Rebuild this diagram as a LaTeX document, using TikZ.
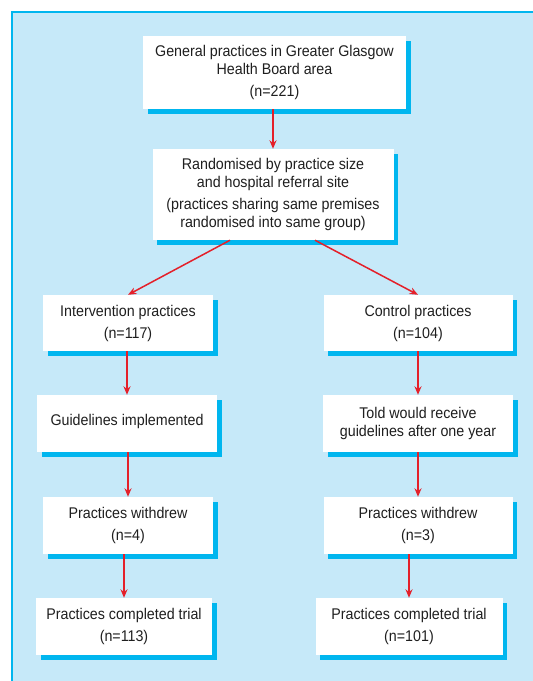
\documentclass[tikz,border=0pt]{standalone}
\usepackage{fontspec}
\setmainfont{Liberation Sans}[FakeStretch=0.92]
\usetikzlibrary{shadows,arrows.meta}
\definecolor{panelblue}{HTML}{C6E9F9}
\definecolor{edgeblue}{HTML}{00B6EF}
\definecolor{arrowred}{HTML}{E4202A}
\tikzset{
	flowbox/.style={fill=white, align=center, inner sep=0pt, text=black!88, font=\fontsize{15.5}{18}\selectfont,
		drop shadow={shadow xshift=4.5pt, shadow yshift=-4.5pt, fill=edgeblue, opacity=1}},
	flowarrow/.style={line width=1.5pt, draw=arrowred, -{Stealth[length=8.5pt,width=7pt]}}
}
\begin{document}
\begin{tikzpicture}[x=1pt,y=-1pt]
		\useasboundingbox (0,0) rectangle (533,681);
		\fill[white] (0,0) rectangle (533,681);
		\fill[panelblue] (12,12) rectangle (533,681);
		\draw[edgeblue, line width=1.2pt] (12,681) -- (12,12) -- (533,12);
		% top of the chart
		\node[flowbox, minimum width=263, minimum height=73] (gp) at (274.5,72.5)
			{General practices in Greater Glasgow\\Health Board area\\[4pt](n=221)};
		\node[flowbox, minimum width=241, minimum height=91] (rand) at (273,194.5)
			{Randomised by practice size\\and hospital referral site\\[4pt](practices sharing same premises\\randomised into same group)};
		% intervention arm
		\node[flowbox, minimum width=170, minimum height=56] (interv) at (128,323)
			{Intervention practices\\[4pt](n=117)};
		\node[flowbox, minimum width=180, minimum height=57, text depth=8pt] (guide) at (127,423.5)
			{Guidelines implemented};
		\node[flowbox, minimum width=170, minimum height=57] (wdl) at (128,525.5)
			{Practices withdrew\\[4pt](n=4)};
		\node[flowbox, minimum width=176, minimum height=57] (cpl) at (124,626.5)
			{Practices completed trial\\[4pt](n=113)};
		% control arm
		\node[flowbox, minimum width=189, minimum height=56] (ctrl) at (418,323)
			{Control practices\\[4pt](n=104)};
		\node[flowbox, minimum width=190, minimum height=57] (told) at (418,423.5)
			{Told would receive\\guidelines after one year};
		\node[flowbox, minimum width=189, minimum height=57] (wdr) at (418,525.5)
			{Practices withdrew\\[4pt](n=3)};
		\node[flowbox, minimum width=187, minimum height=57] (cpr) at (409,626.5)
			{Practices completed trial\\[4pt](n=101)};
		% connectors
		\draw[flowarrow] (gp.south -| rand.north) -- (rand.north);
		\draw[flowarrow] ([xshift=-43pt]rand.south) -- (interv.north);
		\draw[flowarrow] ([xshift=42pt]rand.south) -- (ctrl.north);
		\draw[flowarrow] (interv.south -| guide.north) -- (guide.north);
		\draw[flowarrow] (guide.south -| wdl.north) -- (wdl.north);
		\draw[flowarrow] (wdl.south -| cpl.north) -- (cpl.north);
		\draw[flowarrow] (ctrl.south -| told.north) -- (told.north);
		\draw[flowarrow] (told.south -| wdr.north) -- (wdr.north);
		\draw[flowarrow] (wdr.south -| cpr.north) -- (cpr.north);
\end{tikzpicture}
\end{document}
